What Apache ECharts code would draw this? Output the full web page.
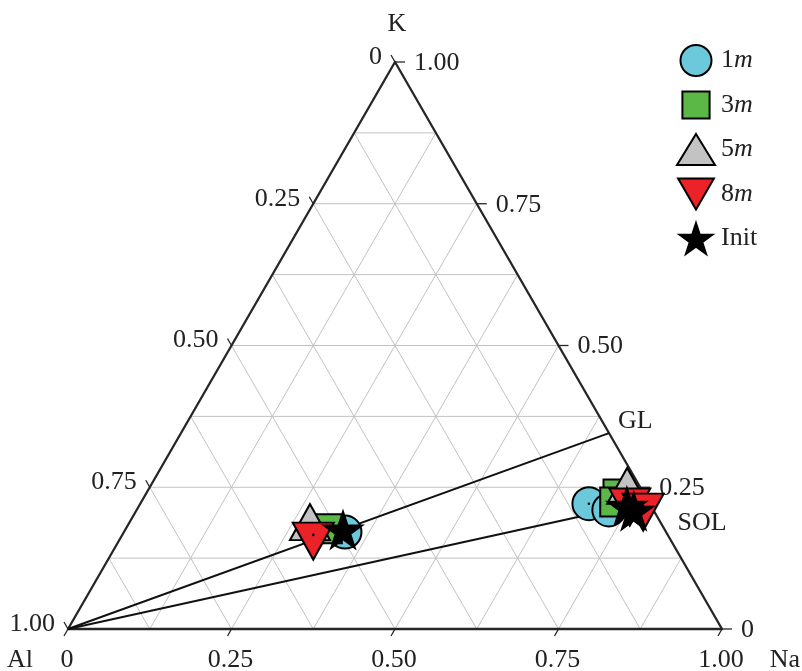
<!DOCTYPE html>
<html>
<head>
<meta charset="utf-8">
<script src="https://cdn.jsdelivr.net/npm/echarts@6/dist/echarts.min.js"></script>
<style>
html, body { margin: 0; padding: 0; background: #fff; }
#chart { width: 802px; height: 671px; }
</style>
</head>
<body>
<div id="chart"></div>
<script>
// Compositions are [Al, Na, K] mole fractions.
const seriesNames = ['1m', '3m', '5m', '8m', 'Init'];
const comp1m   = [[0.491, 0.338, 0.171], [0.093, 0.686, 0.221], [0.068, 0.722, 0.210]];
const comp3m   = [[0.515, 0.308, 0.177], [0.040, 0.722, 0.238], [0.052, 0.724, 0.224]];
const comp5m   = [[0.541, 0.281, 0.178], [0.025, 0.734, 0.242]];
const comp8m   = [[0.542, 0.292, 0.166], [0.028, 0.746, 0.226], [0.030, 0.771, 0.217]];
const compInit = [[0.492, 0.333, 0.175], [0.036, 0.746, 0.217], [0.031, 0.761, 0.208]];

// Constant K/Na ratio lines, running from the Al corner to the Na–K edge.
const ratioNames = ['GL', 'SOL'];
const ratioEnds  = [[0, 0.6545, 0.3455], [0, 0.775, 0.225]];

// Axis ticks and grid steps.
const tickValues = [0, 0.25, 0.5, 0.75, 1];
const tickLabels = ['0', '0.25', '0.50', '0.75', '1.00'];
const gridSteps  = [0.125, 0.25, 0.375, 0.5, 0.625, 0.75, 0.875];
const cornerNames = ['Al', 'Na', 'K'];

const H = Math.sqrt(3) / 2;
// Ternary [Al, Na, K] -> cartesian (Al corner at origin, Na at (1,0), K on top).
function toXY(c) { return [c[1] + c[2] / 2, c[2] * H]; }

const FONT = '"Liberation Serif", "Times New Roman", serif';
const SERIF26 = '26px ' + FONT;

// Frame: grid, edges, ticks, tick labels and corner names.
function renderFrame(params, api) {
  const P = c => api.coord(toXY(c));
  const kids = [];
  const gridStyle = { stroke: '#c2c2c2', lineWidth: 1 };
  gridSteps.forEach(s => {
    [[[1 - s, 0, s], [0, 1 - s, s]],
     [[1 - s, s, 0], [0, s, 1 - s]],
     [[s, 1 - s, 0], [s, 0, 1 - s]]].forEach(([a, b]) => {
      const p = P(a), q = P(b);
      kids.push({ type: 'line', shape: { x1: p[0], y1: p[1], x2: q[0], y2: q[1] }, style: gridStyle });
    });
  });
  const edgeStyle = { stroke: '#262626', lineWidth: 2.3, lineCap: 'round' };
  const A = P([1, 0, 0]), N = P([0, 1, 0]), K = P([0, 0, 1]);
  [[A, N], [N, K], [K, A]].forEach(([p, q]) => {
    kids.push({ type: 'line', shape: { x1: p[0], y1: p[1], x2: q[0], y2: q[1] }, style: edgeStyle });
  });
  const tickStyle = { stroke: '#262626', lineWidth: 1.3 };
  const txt = (text, x, y, align, font) => ({
    type: 'text',
    style: { text, x, y, align, verticalAlign: 'middle', font: font || SERIF26, fill: '#222' }
  });
  tickValues.forEach((v, i) => {
    // Na along the bottom edge
    let p = P([1 - v, v, 0]);
    kids.push({ type: 'line', shape: { x1: p[0], y1: p[1], x2: p[0] - 4, y2: p[1] + 7 }, style: tickStyle });
    kids.push(txt(tickLabels[i], p[0] - 1, p[1] + 31, 'center'));
    // Al along the left edge
    p = P([v, 0, 1 - v]);
    kids.push({ type: 'line', shape: { x1: p[0], y1: p[1], x2: p[0] - 4, y2: p[1] - 7 }, style: tickStyle });
    kids.push(txt(tickLabels[i], p[0] - 13, p[1] - 5, 'right'));
    // K along the right edge
    p = P([0, 1 - v, v]);
    kids.push({ type: 'line', shape: { x1: p[0], y1: p[1], x2: p[0] + 10, y2: p[1] }, style: tickStyle });
    kids.push(txt(tickLabels[i], p[0] + 19, p[1] + 1, 'left'));
  });
  kids.push(txt(cornerNames[0], A[0] - 48, A[1] + 31, 'center'));
  kids.push(txt(cornerNames[1], N[0] + 63, N[1] + 31, 'center'));
  kids.push(txt(cornerNames[2], K[0] + 2, K[1] - 38, 'center'));
  return { type: 'group', children: kids };
}

// Ratio lines with their names at the Na–K edge.
const ratioLabelOffsets = [[9, -12], [29, 22]];
function renderRatio(params, api) {
  const p0 = api.coord([0, 0]);
  const p1 = api.coord([api.value(0), api.value(1)]);
  const off = ratioLabelOffsets[params.dataIndex];
  return {
    type: 'group',
    children: [
      { type: 'line', shape: { x1: p0[0], y1: p0[1], x2: p1[0], y2: p1[1] },
        style: { stroke: '#111', lineWidth: 2 } },
      { type: 'text', style: { text: ratioNames[params.dataIndex], x: p1[0] + off[0], y: p1[1] + off[1],
        align: 'left', verticalAlign: 'middle', font: SERIF26, fill: '#222' } }
    ]
  };
}

const STAR = 'path://M0,-1L0.2245,-0.309L0.9511,-0.309L0.3633,0.118L0.5878,0.809L0,0.382L-0.5878,0.809L-0.3633,0.118L-0.9511,-0.309L-0.2245,-0.309Z';
const DOWN = 'path://M0,0L2,0L1,1.732Z';
const SQUARE_ICON = 'path://M-0.07,-0.07M1.07,1.07M0,0L1,0L1,1L0,1Z';

const groups = [
  { data: comp1m,   color: '#6cc9db', symbol: 'circle',   size: 33,       offset: [0, 0],    icon: 'circle' },
  { data: comp3m,   color: '#5cb846', symbol: 'rect',     size: 29,       offset: [0, 0],    icon: SQUARE_ICON },
  { data: comp5m,   color: '#c3c3c3', symbol: 'triangle', size: [40, 36], offset: [0, -6],   icon: 'triangle' },
  { data: comp8m,   color: '#ec2229', symbol: DOWN,       size: [41, 37], offset: [0, 6.2],  icon: DOWN },
  { data: compInit, color: '#000000', symbol: STAR,       size: [38, 36], offset: [0, 0],    icon: STAR }
];

const series = [
  { type: 'custom', name: 'frame', renderItem: renderFrame, data: [[0, 0]], silent: true, z: 1, clip: false },
  { type: 'custom', name: 'ratio', renderItem: renderRatio, data: ratioEnds.map(toXY), silent: true, z: 2, clip: false }
];
groups.forEach((g, i) => {
  series.push({
    type: 'scatter', name: seriesNames[i], z: 3,
    data: g.data.map(toXY),
    symbol: g.symbol, symbolSize: g.size, symbolOffset: g.offset,
    itemStyle: { color: g.color, borderColor: '#000', borderWidth: 2, opacity: 1 },
    emphasis: { disabled: true }, silent: true
  });
  if (i < 4) {
    // small centre dot of each marker
    series.push({
      type: 'scatter', name: seriesNames[i] + '-c', z: 3,
      data: g.data.map(toXY),
      symbol: 'circle', symbolSize: 2.6,
      itemStyle: { color: '#000', opacity: 1 },
      emphasis: { disabled: true }, silent: true
    });
  }
});

const legendRich = {
  n: { fontFamily: FONT, fontSize: 26, color: '#222', padding: [0, 0, 0, 1] },
  i: { fontFamily: FONT, fontSize: 26, fontStyle: 'italic', color: '#222' }
};

const chart = echarts.init(document.getElementById('chart'), null, { renderer: 'canvas' });
chart.setOption({
  animation: false,
  backgroundColor: '#fff',
  grid: { left: 68, right: 80, top: 62, bottom: 42 },
  xAxis: { type: 'value', min: 0, max: 1, show: false },
  yAxis: { type: 'value', min: 0, max: H, show: false },
  legend: {
    orient: 'vertical', left: 671, top: 39,
    itemWidth: 38, itemHeight: 31, itemGap: 11.5,
    selectedMode: false, symbolKeepAspect: true,
    data: groups.map((g, i) => ({
      name: seriesNames[i], icon: g.icon,
      itemStyle: { color: g.color, borderColor: '#000', borderWidth: 2 }
    })),
    formatter: name => name === 'Init' ? '{n|Init}' : '{n|' + name.slice(0, -1) + '}{i|m}',
    textStyle: { fontFamily: FONT, fontSize: 26, color: '#222', rich: legendRich }
  },
  series
});
</script>
</body>
</html>
